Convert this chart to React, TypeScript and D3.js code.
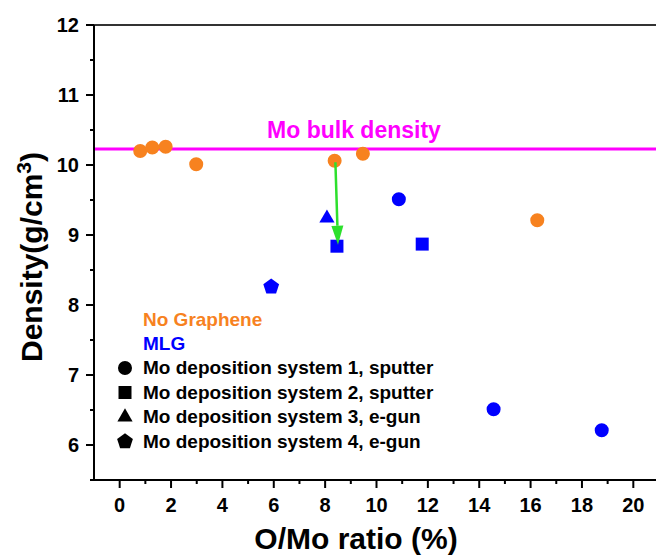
import * as d3 from 'd3'

// O/Mo ratio (%) vs density (g/cm3)
const noGrapheneSys1 = [
  { x: 0.8, y: 10.2 },
  { x: 1.27, y: 10.25 },
  { x: 1.79, y: 10.26 },
  { x: 2.98, y: 10.01 },
  { x: 8.37, y: 10.06 },
  { x: 9.47, y: 10.16 },
  { x: 16.26, y: 9.21 },
]
const mlgSys1 = [
  { x: 10.87, y: 9.51 },
  { x: 14.56, y: 6.51 },
  { x: 18.77, y: 6.21 },
]
const mlgSys2 = [
  { x: 8.46, y: 8.84 },
  { x: 11.78, y: 8.87 },
]
const mlgSys3 = [{ x: 8.07, y: 9.24 }]
const mlgSys4 = [{ x: 5.9, y: 8.26 }]

const bulkDensity = 10.23
const arrowFrom = { x: 8.4, y: 10.04 }
const arrowTo = { x: 8.5, y: 8.86 }

const xMajor = [0, 2, 4, 6, 8, 10, 12, 14, 16, 18, 20]
const xMinor = [1, 3, 5, 7, 9, 11, 13, 15, 17, 19, 21]
const yMajor = [6, 7, 8, 9, 10, 11, 12]
const yMinor = [5.5, 6.5, 7.5, 8.5, 9.5, 10.5, 11.5]

const legendRows = [
  { shape: 'circle', label: 'Mo deposition system 1, sputter' },
  { shape: 'square', label: 'Mo deposition system 2, sputter' },
  { shape: 'triangle', label: 'Mo deposition system 3, e-gun' },
  { shape: 'pentagon', label: 'Mo deposition system 4, e-gun' },
]

const ORANGE = '#f7821f'
const BLUE = '#0000ff'
const MAGENTA = '#ff00ff'
const GREEN = '#2de02d'
const FONT = '"Liberation Sans", Arial, sans-serif'

function pentagonPath(r: number): string {
  const pts = d3.range(5).map((i) => {
    const a = -Math.PI / 2 + (i * 2 * Math.PI) / 5
    return [r * Math.cos(a), r * Math.sin(a)]
  })
  return 'M' + pts.map((p) => p.join(',')).join('L') + 'Z'
}

function markerPath(shape: string): string {
  if (shape === 'circle') return d3.symbol(d3.symbolCircle, 154)() ?? ''
  if (shape === 'square') return d3.symbol(d3.symbolSquare, 169)() ?? ''
  if (shape === 'triangle') return d3.symbol(d3.symbolTriangle, 100)() ?? ''
  return pentagonPath(8.3)
}

export default function App() {
  const W = 656
  const H = 555
  const x = d3.scaleLinear().domain([-1, 21]).range([94, 659])
  const y = d3.scaleLinear().domain([5.5, 12]).range([480, 25])
  const x0 = x(-1)
  const y0 = y(5.5)

  const series = [
    { data: noGrapheneSys1, shape: 'circle', color: ORANGE },
    { data: mlgSys1, shape: 'circle', color: BLUE },
    { data: mlgSys2, shape: 'square', color: BLUE },
    { data: mlgSys3, shape: 'triangle', color: BLUE },
    { data: mlgSys4, shape: 'pentagon', color: BLUE },
  ]

  const ax1 = x(arrowFrom.x)
  const ay1 = y(arrowFrom.y)
  const ax2 = x(arrowTo.x)
  const ay2 = y(arrowTo.y)
  const ang = Math.atan2(ay2 - ay1, ax2 - ax1)
  const headLen = 19
  const headW = 6
  const bx = ax2 - headLen * Math.cos(ang)
  const by = ay2 - headLen * Math.sin(ang)
  const head = [
    [ax2, ay2],
    [bx + headW * Math.sin(ang), by - headW * Math.cos(ang)],
    [bx - headW * Math.sin(ang), by + headW * Math.cos(ang)],
  ]

  return (
    <svg
      width={W}
      height={H}
      style={{ position: 'absolute', left: 0, top: 0, background: '#fff' }}
      fontFamily={FONT}
      fontWeight="bold"
    >
      <rect width={W} height={H} fill="#fff" />

      {/* bulk density line */}
      <line x1={x0} x2={W} y1={y(bulkDensity)} y2={y(bulkDensity)} stroke={MAGENTA} strokeWidth={3} />
      <text x={354} y={138} textAnchor="middle" fontSize={23} fill={MAGENTA}>
        Mo bulk density
      </text>

      {/* points */}
      {series.map((s, si) =>
        s.data.map((d, i) => (
          <path
            key={`${si}-${i}`}
            d={markerPath(s.shape)}
            transform={`translate(${x(d.x)},${y(d.y)})`}
            fill={s.color}
          />
        )),
      )}

      {/* arrow */}
      <line x1={ax1} y1={ay1} x2={bx} y2={by} stroke={GREEN} strokeWidth={2.5} />
      <path d={'M' + head.map((p) => p.join(',')).join('L') + 'Z'} fill={GREEN} />

      {/* frame */}
      <line x1={x0} x2={W} y1={25} y2={25} stroke="#333" strokeWidth={2} />
      <line x1={x0} x2={x0} y1={25} y2={y0 + 1} stroke="#000" strokeWidth={2} />
      <line x1={x0 - 1} x2={W} y1={y0} y2={y0} stroke="#000" strokeWidth={2} />

      {/* x ticks */}
      {xMajor.map((t) => (
        <g key={`xm${t}`}>
          <line x1={x(t)} x2={x(t)} y1={y0} y2={y0 + 8} stroke="#000" strokeWidth={2} />
          <text x={x(t)} y={512} textAnchor="middle" fontSize={20} fill="#000">
            {t}
          </text>
        </g>
      ))}
      {xMinor.map((t) => (
        <line key={`xn${t}`} x1={x(t)} x2={x(t)} y1={y0} y2={y0 + 4} stroke="#000" strokeWidth={2} />
      ))}

      {/* y ticks */}
      {yMajor.map((t) => (
        <g key={`ym${t}`}>
          <line x1={x0 - 8} x2={x0} y1={y(t)} y2={y(t)} stroke="#000" strokeWidth={2} />
          <text x={79} y={y(t) + 7} textAnchor="end" fontSize={20} fill="#000">
            {t}
          </text>
        </g>
      ))}
      {yMinor.map((t) => (
        <line key={`yn${t}`} x1={x0 - 4} x2={x0} y1={y(t)} y2={y(t)} stroke="#000" strokeWidth={2} />
      ))}

      {/* axis titles */}
      <text x={356} y={549} textAnchor="middle" fontSize={30} fill="#000">
        O/Mo ratio (%)
      </text>
      <text transform="translate(42,257) rotate(-90)" textAnchor="middle" fontSize={30} fill="#000">
        Density(g/cm
        <tspan dy={-11} fontSize={21}>
          3
        </tspan>
        <tspan dy={11}>)</tspan>
      </text>

      {/* legend */}
      <text x={143} y={326} fontSize={19} fill={ORANGE}>
        No Graphene
      </text>
      <text x={143} y={350} fontSize={19} fill={BLUE}>
        MLG
      </text>
      {legendRows.map((r, i) => (
        <g key={r.label}>
          <path d={markerPath(r.shape)} transform={`translate(125,${368 + i * 24.5})`} fill="#000" />
          <text x={143} y={374 + i * 24.5} fontSize={19} fill="#000">
            {r.label}
          </text>
        </g>
      ))}
    </svg>
  )
}
